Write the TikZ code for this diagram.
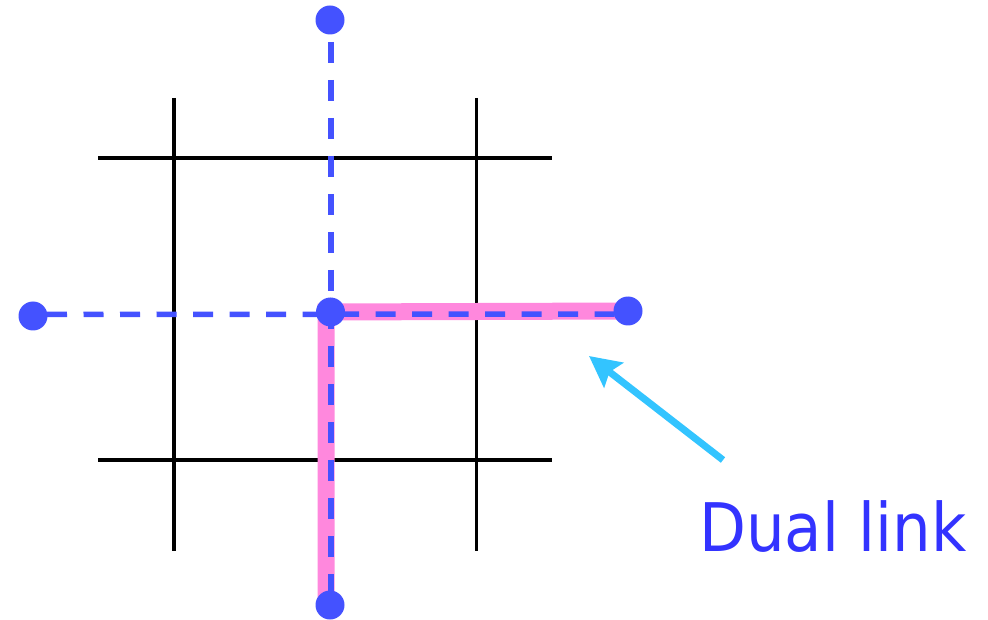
\documentclass[tikz,border=0pt]{standalone}
\usepackage{fontspec}
\newfontfamily\lblfont[FakeStretch=0.91]{DejaVu Sans}
\usetikzlibrary{arrows.meta}
\definecolor{dotblue}{RGB}{68,82,255}
\definecolor{linkpink}{RGB}{255,136,221}
\definecolor{arrowcyan}{RGB}{51,196,255}
\definecolor{textblue}{RGB}{51,51,255}
\pgfdeclarelayer{bg}
\pgfsetlayers{bg,main}
\begin{document}
\begin{tikzpicture}[x=1pt,y=-1pt,
  gridline/.style={line width=3.5pt,black},
  dualdot/.style={circle,fill=dotblue,inner sep=0pt,minimum size=29pt},
  dualdash/.style={dotblue,line width=5.5pt},
  linkpath/.style={linkpink,line width=17pt,line join=miter},
  pointer/.style={arrowcyan,line width=7pt,-{Stealth[length=31pt,width=31pt,inset=5pt]}},
  dualtext/.style={text=textblue,inner sep=0pt,font=\lblfont\fontsize{67pt}{80pt}\selectfont}
]
\useasboundingbox (0,0) rectangle (988,620);
% dual lattice sites
\node[dualdot] (T) at (330,20) {};
\node[dualdot] (L) at (33,316) {};
\node[dualdot] (C) at (330.5,312) {};
\node[dualdot] (R) at (628,311) {};
\node[dualdot] (B) at (330,605) {};
\coordinate (corner) at (326,312);
\coordinate (pinkend) at (326,600);
\coordinate (hl) at (33,314.5);
\coordinate (hr) at (628,314);
\coordinate (vt) at (331,20);
\coordinate (vb) at (331,605);
\begin{pgfonlayer}{bg}
  % primal lattice
  \draw[gridline] (174,98) -- (174,551);
  \draw[gridline] (476.5,98) -- (476.5,551);
  \draw[gridline] (98,158) -- (552,158);
  \draw[gridline] (98,460) -- (552,460);
  % dual link
  \draw[linkpath] (R.center) -- (corner) -- (pinkend);
  % dashed dual lattice lines
  \draw[dualdash,dash pattern=on 21pt off 17pt,dash phase=16pt] (vt) -- (vb);
  \draw[dualdash,dash pattern=on 20pt off 16.5pt,dash phase=22.5pt] (hl) -- (hr);
\end{pgfonlayer}
% pointer arrow and label
\coordinate (atail) at (723,460);
\coordinate (atip) at (589,356);
\draw[pointer] (atail) -- (atip);
\node[dualtext,anchor=base west] (dl) at (699,551) {Dual link};
\end{tikzpicture}
\end{document}
